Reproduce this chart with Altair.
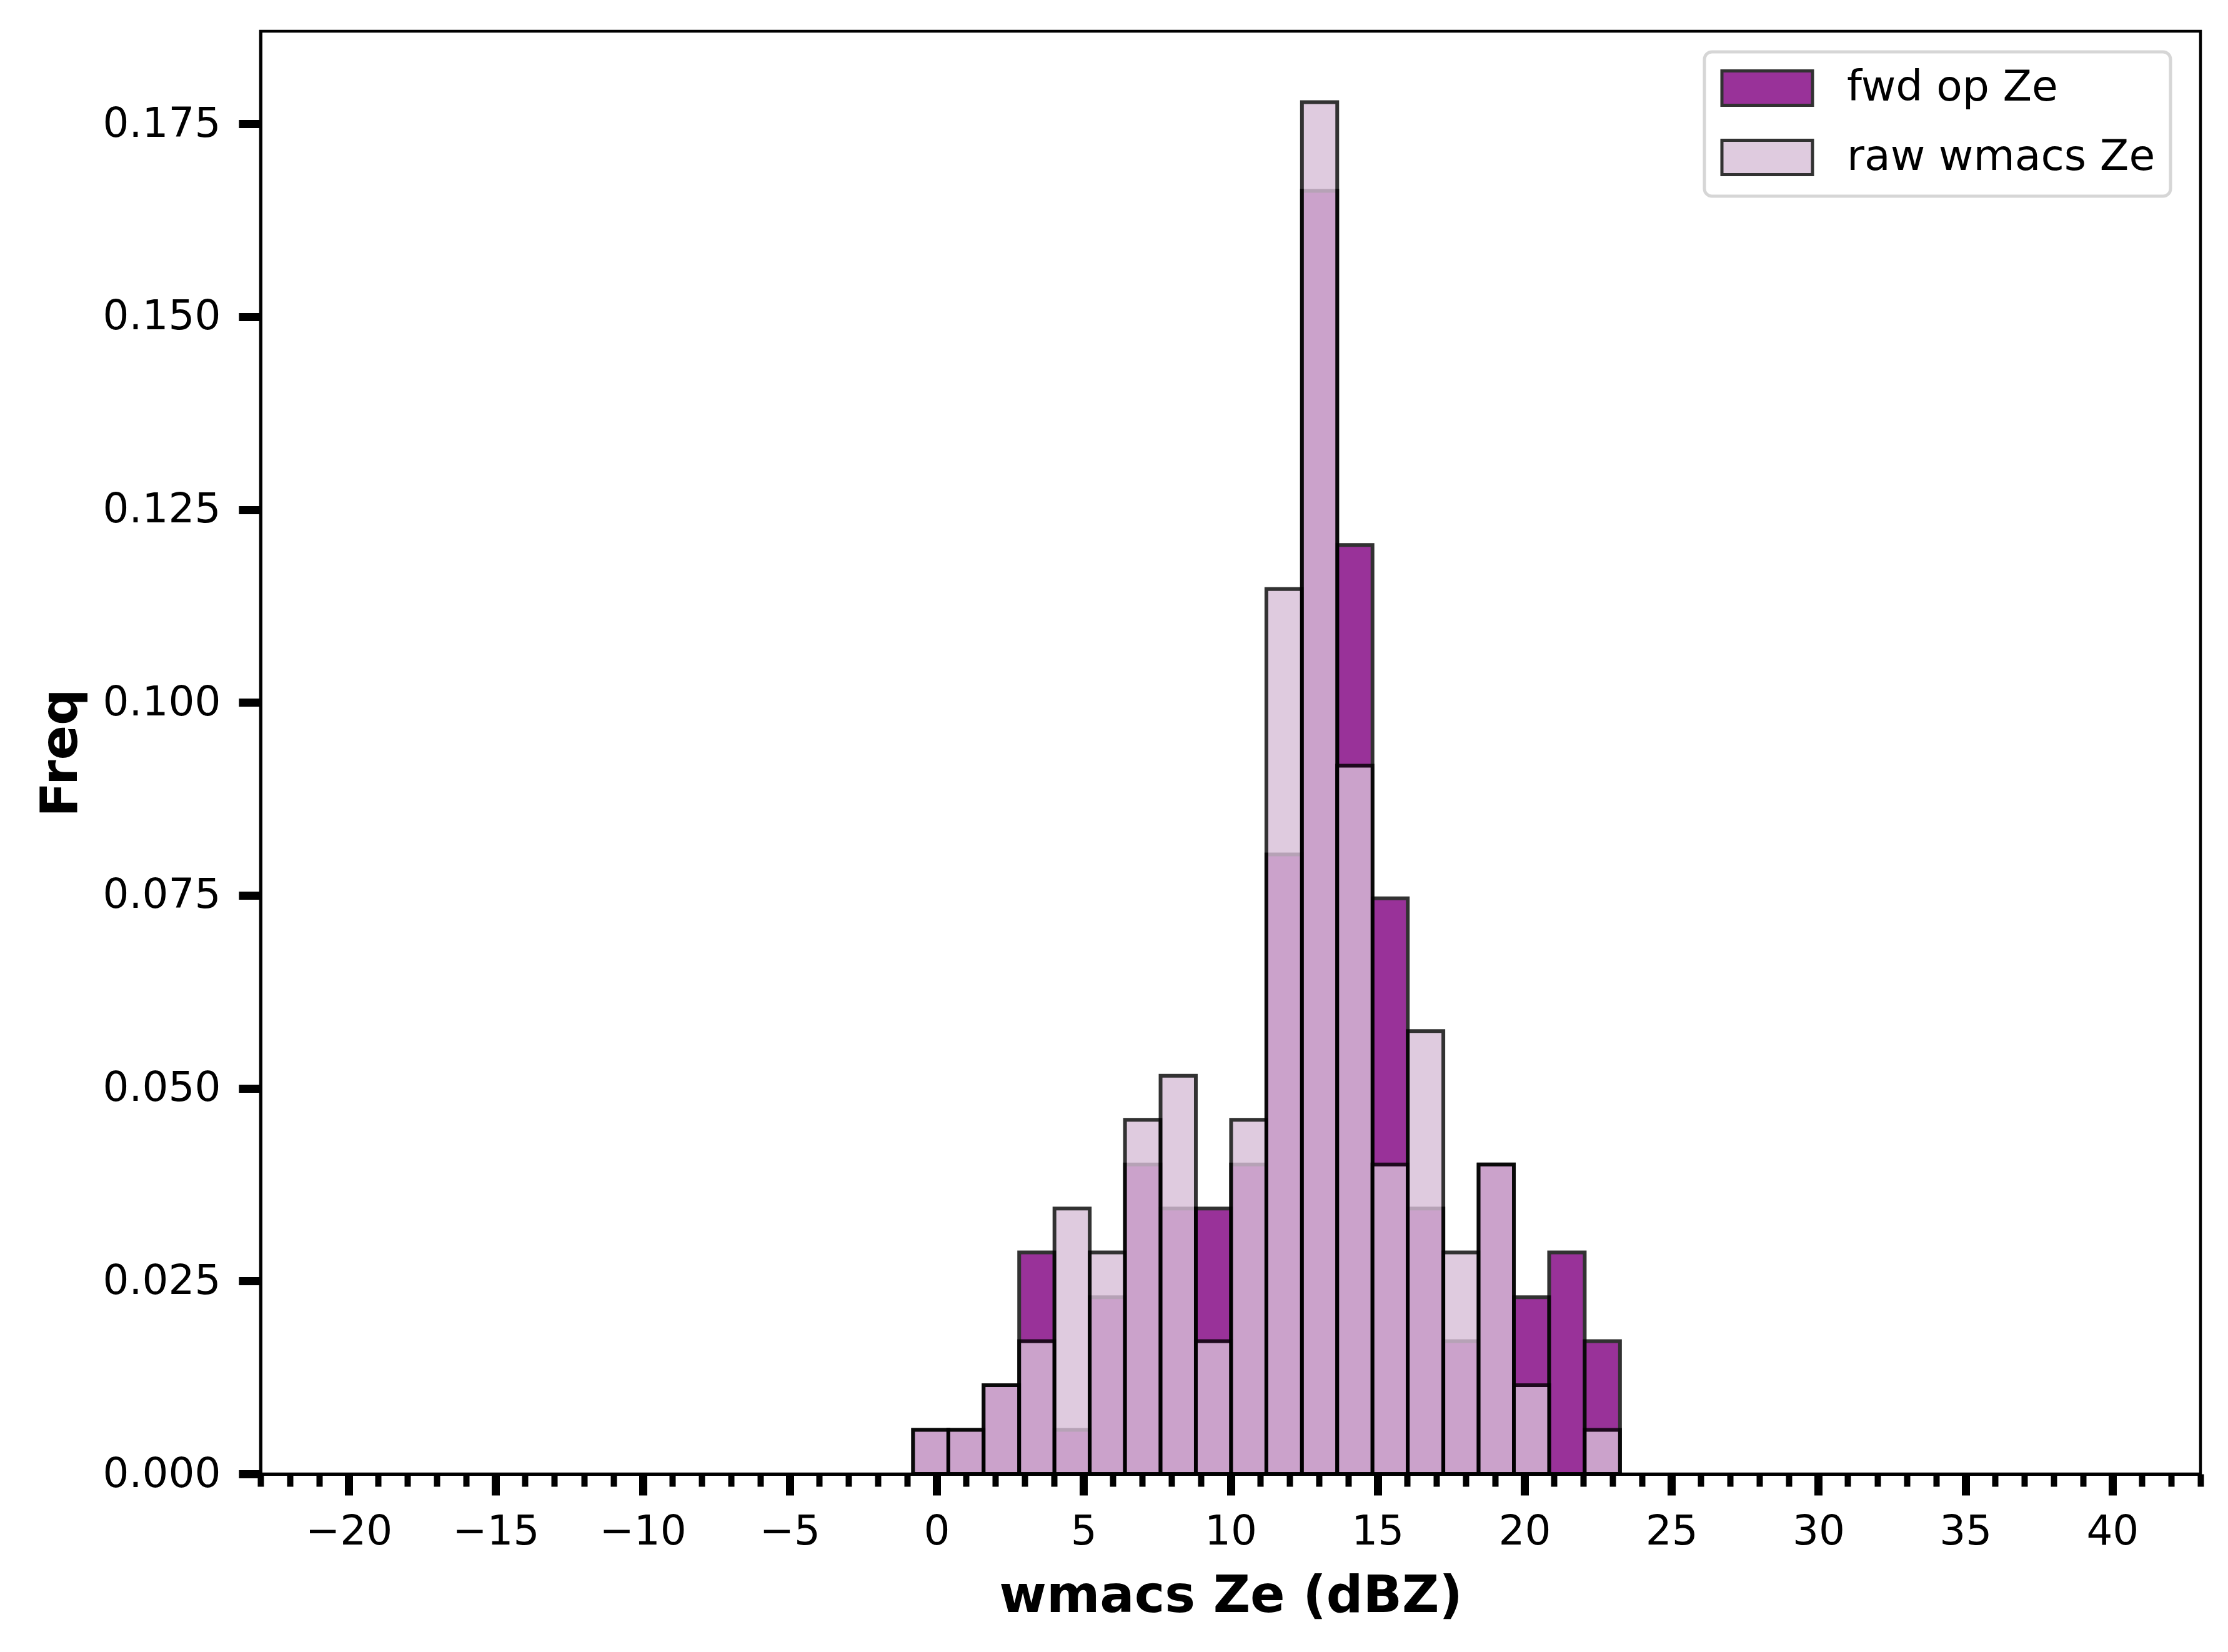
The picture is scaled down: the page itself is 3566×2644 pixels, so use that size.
import altair as alt
import pandas as pd

# ---- data ----
bin_edges = [-0.80, 0.40, 1.60, 2.81, 4.01, 5.21, 6.41, 7.62, 8.82, 10.02, 11.22,
             12.43, 13.63, 14.83, 16.03, 17.24, 18.44, 19.64, 20.84, 22.05, 23.25]
fwd_freq = [0.0057, 0.0057, 0.0115, 0.0287, 0.0057, 0.0229, 0.0401, 0.0344, 0.0344, 0.0401,
            0.0803, 0.1663, 0.1204, 0.0746, 0.0344, 0.0172, 0.0401, 0.0229, 0.0287, 0.0172]
raw_freq = [0.0057, 0.0057, 0.0115, 0.0172, 0.0344, 0.0287, 0.0459, 0.0516, 0.0172, 0.0459,
            0.1147, 0.1778, 0.0918, 0.0401, 0.0574, 0.0287, 0.0401, 0.0115, 0.0, 0.0057]
series = ["fwd op Ze", "raw wmacs Ze"]
colors = ["purple", "thistle"]
x_major = [-20, -15, -10, -5, 0, 5, 10, 15, 20, 25, 30, 35, 40]
x_minor = list(range(-23, 44))
y_ticks = [0.0, 0.025, 0.05, 0.075, 0.1, 0.125, 0.15, 0.175]

fwd_df = pd.DataFrame({"start": bin_edges[:-1], "end": bin_edges[1:],
                       "freq": fwd_freq, "series": series[0]})
raw_df = pd.DataFrame({"start": bin_edges[:-1], "end": bin_edges[1:],
                       "freq": raw_freq, "series": series[1]})

W, H = 3105, 2309
FONT = "DejaVu Sans"

xscale = alt.Scale(domain=[-23, 43], nice=False, zero=False)
yscale = alt.Scale(domain=[0, 0.187], nice=False)

legend = alt.Legend(
    title=None, orient="none", legendX=2311, legendY=33,
    padding=24, strokeColor="#d6d6d6", cornerRadius=12,
    fillColor="white",
    symbolType="M-1,-0.9167H3.8333V0.9167H-1Z", symbolSize=3600,
    symbolStrokeColor="black", symbolStrokeWidth=5, symbolOpacity=0.8,
    labelFont=FONT, labelFontSize=68, labelColor="black",
    labelOffset=136, labelLimit=2000,
)
color = alt.Color("series:N", scale=alt.Scale(domain=series, range=colors), legend=legend)

major_axis = alt.Axis(
    orient="bottom", values=x_major, format="d",
    tickSize=34, tickWidth=13, tickColor="black",
    labelFont=FONT, labelFontSize=66, labelColor="black", labelPadding=26,
    labelFlush=False, labelOverlap=False, labelLimit=2000,
    domain=True, domainColor="black", domainWidth=5, grid=False,
    title="wmacs Ze (dBZ)", titleFont=FONT, titleFontSize=82, titleFontWeight="bold",
    titleColor="black", titleX=W / 2, titleY=220, titleBaseline="alphabetic",
    titleAlign="center",
)
minor_axis = alt.Axis(
    orient="bottom", values=x_minor, tickSize=20, tickWidth=10, tickColor="black",
    labels=False, domain=False, grid=False, title=None,
)
y_axis = alt.Axis(
    values=y_ticks, format=".3f",
    tickSize=35, tickWidth=13, tickColor="black",
    labelFont=FONT, labelFontSize=66, labelColor="black", labelPadding=29,
    labelLimit=2000,
    domain=True, domainColor="black", domainWidth=5, grid=False,
    title="Freq", titleFont=FONT, titleFontSize=82, titleFontWeight="bold",
    titleColor="black", titleX=-295, titleY=H / 2, titleAngle=270,
    titleBaseline="alphabetic", titleAlign="center",
)

fwd = alt.Chart(fwd_df).mark_bar(opacity=0.8, stroke="black", strokeWidth=6).encode(
    x=alt.X("start:Q", scale=xscale, axis=major_axis),
    x2="end:Q",
    y=alt.Y("freq:Q", scale=yscale, axis=y_axis),
    y2=alt.datum(0),
    color=color,
)
raw = alt.Chart(raw_df).mark_bar(opacity=0.8, stroke="black", strokeWidth=6).encode(
    x=alt.X("start:Q", scale=xscale, axis=minor_axis),
    x2="end:Q",
    y=alt.Y("freq:Q", scale=yscale, axis=y_axis),
    y2=alt.datum(0),
    color=color,
)

chart = alt.layer(fwd, raw).resolve_axis(x="independent").properties(
    width=W, height=H,
    autosize=alt.AutoSizeParams(type="none"),
    padding={"left": 409, "top": 42, "right": 30, "bottom": 260},
    background="white",
).configure_view(stroke="black", strokeWidth=4.5).configure_legend(
    strokeWidth=5, rowPadding=35
)

chart.save("out.html", embed_options={"renderer": "svg", "actions": False})
